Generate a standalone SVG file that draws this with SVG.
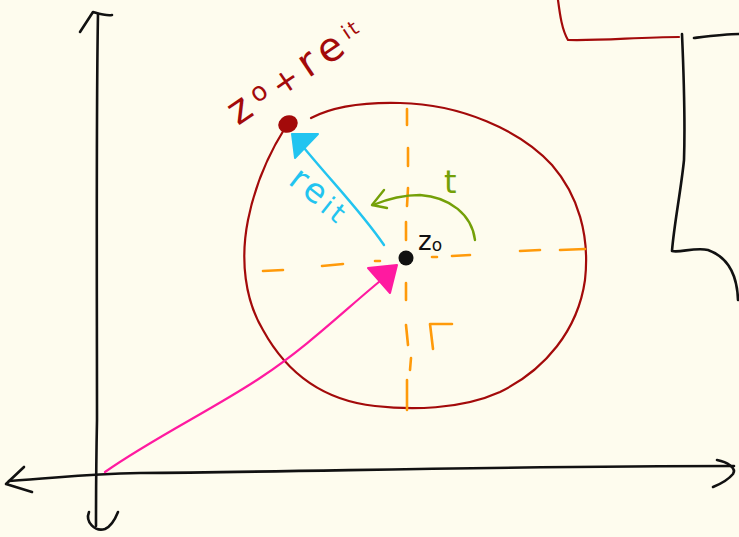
<svg xmlns="http://www.w3.org/2000/svg" width="739" height="537" viewBox="0 0 739 537">
<style>
.ink{fill:none;stroke-linecap:round;stroke-linejoin:round}
.blk{stroke:#111;stroke-width:2.6}
.red{stroke:#a30a0a;stroke-width:2.2}
.org{stroke:#ff9a0a;stroke-width:2.6}
.cy{stroke:#22c4f0;stroke-width:2.4}
.gr{stroke:#74a008;stroke-width:2.4}
.pk{stroke:#ff1aa0;stroke-width:2.2}
.hand{font-family:"DejaVu Sans",sans-serif}
</style>
<rect width="739" height="537" fill="#fefcee"/>
<g id="axes">
<path class="ink blk" d="M98,14 C96,120 97,300 97,420 C96,470 96,500 96,526"/>
<path class="ink blk" d="M80,32 L93,12 C100,14 106,16 112,15"/>
<path class="ink blk" d="M89,512 C85,522 95,532 105,529 C112,526 116,517 118,512"/>
<path class="ink blk" d="M9,481 C60,478 80,474 140,473 C300,472 500,466 734,466"/>
<path class="ink blk" d="M24,467 L6,484 L32,492"/>
<path class="ink blk" d="M717,460 C727,462 737,468 733,474 C728,480 718,485 713,487"/>
</g>
<g id="top-right">
<path class="ink red" d="M558,0 C560,15 562,30 568,40 C600,41 640,37 679,37"/>
<path class="ink blk" d="M682,34 C684,80 685,130 684,160 C681,190 674,225 672,251 C680,253 695,247 708,250 C725,256 737,270 738,300"/>
<path class="ink blk" d="M694,38 C710,36 725,34 739,34"/>
</g>
<g id="circle">
<path class="ink red" d="M311,118 C330,108 360,102 400,103 C460,104 520,130 552,165 C578,195 590,235 585,280 C578,330 545,370 500,392 C460,410 410,410 375,406 C320,400 285,370 263,330 C245,300 240,260 248,220 C255,185 268,155 285,128"/>
</g>
<g id="cross">
<path class="ink org" d="M407,109 L407,125 M408,148 L408,166 M408,188 L407,206 M406,222 L406,240 M406,283 L406,300 M406,325 L408,345 M411,358 L410,370 M407,380 L407,410"/>
<path class="ink org" d="M263,271 L283,270 M322,266 L343,264 M375,261 L380,261 M432,257 L437,257 M452,256 L470,255 M520,251 L540,250 M560,250 L585,249"/>
<path class="ink org" d="M430,324 L433,349 M430,324 L452,324"/>
</g>
<g id="connectors">
<path class="ink pk" d="M105,472 C150,440 215,408 260,378 C310,345 350,305 385,277"/>
<path d="M368,268 L397,265 L390,293 Z" fill="#ff1aa0" stroke="#ff1aa0" stroke-width="2" stroke-linejoin="round"/>
<path class="ink cy" d="M384,245 C360,210 330,180 300,143"/>
<path d="M292,134 L318,134 L295,158 Z" fill="#22c4f0" stroke="#22c4f0" stroke-width="2" stroke-linejoin="round"/>
<path class="ink gr" d="M475,240 C472,215 450,197 420,195 C400,195 385,200 373,205"/>
<path class="ink gr" d="M384,190 L372,205 L387,208"/>
</g>
<g id="z0">
<circle cx="406" cy="258" r="7.5" fill="#111"/>
<text x="418" y="250" class="hand" font-size="26" fill="#111">z<tspan font-size="17" dy="1">o</tspan></text>
</g>
<g id="point">
<ellipse cx="288" cy="124" rx="10" ry="8.5" transform="rotate(-25 288 124)" fill="#a30a0a"/>
<text x="238" y="126" class="hand" font-size="40" letter-spacing="7" fill="#a30a0a" transform="rotate(-34 238 126)">z<tspan font-size="26" dy="-8">o</tspan><tspan font-size="32" dy="8">+</tspan><tspan>re</tspan><tspan font-size="20" dy="-10" letter-spacing="2">it</tspan></text>
</g>
<g id="labels">
<text x="287" y="183" class="hand" font-size="34" letter-spacing="4" fill="#22c4f0" transform="rotate(38 287 183)">re<tspan font-size="27" dy="2">it</tspan></text>
<text x="444" y="193" class="hand" font-size="32" fill="#74a008">t</text>
</g>
</svg>
